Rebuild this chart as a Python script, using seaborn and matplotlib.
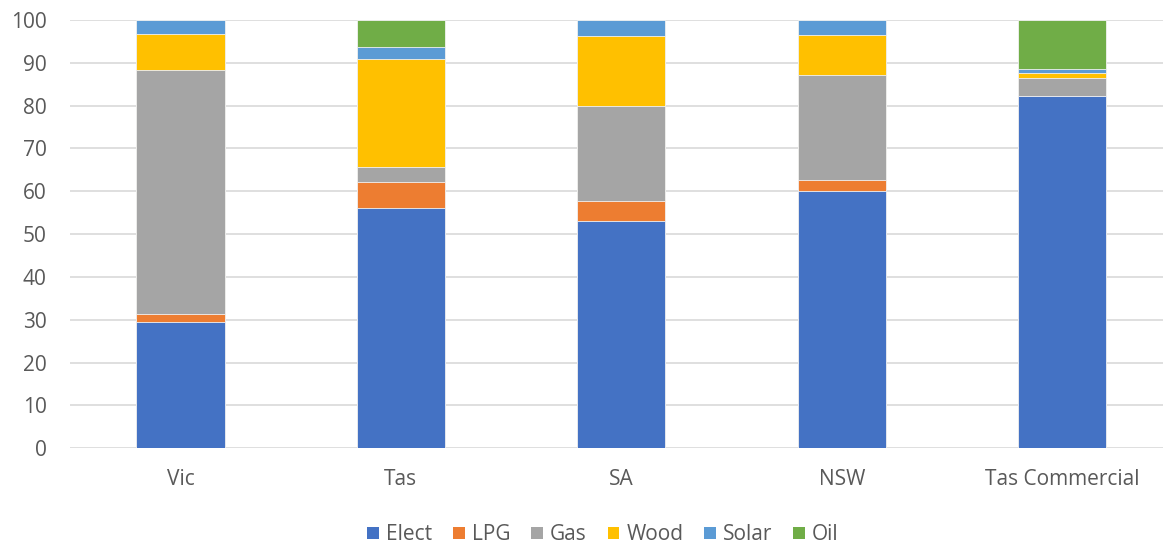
import numpy as np
import pandas as pd
import matplotlib
matplotlib.use("Agg")
import matplotlib.pyplot as plt
from matplotlib.patches import Patch
import seaborn as sns

# Share of heating energy by fuel (%)
regions = ["Vic", "Tas", "SA", "NSW", "Tas Commercial"]
fuels = ["Elect", "LPG", "Gas", "Wood", "Solar", "Oil"]
elect = [29.5, 56.0, 53.1, 60.1, 82.2]
lpg = [1.9, 6.2, 4.7, 2.6, 0.0]
gas = [57.0, 3.5, 22.1, 24.5, 4.3]
wood = [8.4, 25.1, 16.4, 9.4, 1.2]
solar = [3.2, 2.9, 3.7, 3.4, 0.9]
oil = [0.0, 6.3, 0.0, 0.0, 11.4]
colors = ["#4472C4", "#ED7D31", "#A5A5A5", "#FFC000", "#5B9BD5", "#70AD47"]

sns.set_theme(style="white")
plt.rcParams["font.family"] = ["Open Sans", "DejaVu Sans"]

values = np.array([elect, lpg, gas, wood, solar, oil])
cum = np.cumsum(values, axis=0)

fig = plt.figure(figsize=(11.63, 5.46), dpi=100)
ax = fig.add_axes([70.3 / 1163, 1 - 448.3 / 546, 1102 / 1163, 428.3 / 546])

# Stack by drawing cumulative totals from the top series down
for i in range(len(fuels) - 1, -1, -1):
    df = pd.DataFrame({"Region": regions, "Total": cum[i]})
    sns.barplot(data=df, x="Region", y="Total", color=colors[i], width=0.4,
                saturation=1, edgecolor="#f2f2f2", linewidth=0.6, ax=ax, zorder=2)

ax.set_ylim(0, 100)
ax.set_xlim(-0.5, len(regions) - 0.5)
ax.set_yticks(range(0, 101, 10))
ax.yaxis.grid(True, color="#D9D9D9", linewidth=1.2, zorder=0)
ax.set_axisbelow(True)
for s in ax.spines.values():
    s.set_visible(False)
ax.set_xlabel("")
ax.set_ylabel("")
ax.tick_params(axis="y", labelsize=15, labelcolor="#595959", length=0, pad=17)
ax.tick_params(axis="x", labelsize=15, labelcolor="#595959", length=0, pad=15)

handles = [Patch(facecolor=c, edgecolor="none") for c in colors]
fig.legend(handles, fuels, loc="center", bbox_to_anchor=(603 / 1163, 1 - 535 / 546),
           ncol=6, frameon=False, fontsize=15, labelcolor="#595959",
           handlelength=0.55, handleheight=0.55, handletextpad=0.35, columnspacing=1.0)

fig.savefig("out.png", dpi=100)
